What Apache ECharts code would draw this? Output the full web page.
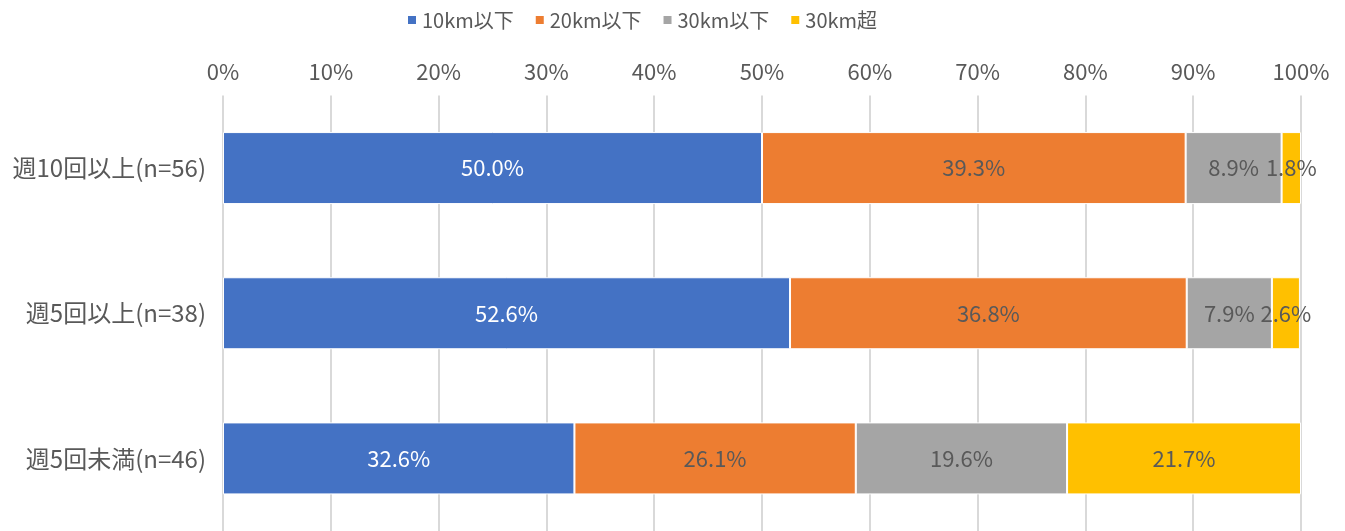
<!DOCTYPE html>
<html><head><meta charset="utf-8">
<script src="https://cdn.jsdelivr.net/npm/echarts@6/dist/echarts.min.js"></script>
<style>html,body{margin:0;padding:0;background:#fff}#c{width:1345px;height:531px}</style>
</head><body><div id="c"></div>
<script>
const categories = ['週10回以上(n=56)', '週5回以上(n=38)', '週5回未満(n=46)'];
const seriesNames = ['10km以下', '20km以下', '30km以下', '30km超'];
const s10 = [50.0, 52.6, 32.6];
const s20 = [39.3, 36.8, 26.1];
const s30 = [8.9, 7.9, 19.6];
const sOver = [1.8, 2.6, 21.7];
const tickLabels = ['0%','10%','20%','30%','40%','50%','60%','70%','80%','90%','100%'];

const colors = ['#4472C4', '#ED7D31', '#A5A5A5', '#FFC000'];
const font = '"Noto Sans CJK JP", "Noto Sans", sans-serif';
const data = [s10, s20, s30, sOver];

const chart = echarts.init(document.getElementById('c'));
chart.setOption({
  animation: false,
  textStyle: { fontFamily: font },
  legend: {
    top: 5, left: 401,
    itemWidth: 10, itemHeight: 10, itemGap: 20,
    icon: 'rect',
    textStyle: { fontSize: 20, color: '#595959', fontFamily: font },
    data: seriesNames
  },
  grid: { left: 223, right: 44, top: 95.5, bottom: 0, containLabel: false },
  xAxis: {
    type: 'value', position: 'top', min: 0, max: 100, interval: 10,
    axisLine: { show: false }, axisTick: { show: false },
    splitLine: { show: true, lineStyle: { color: '#D9D9D9', width: 2 } },
    axisLabel: { fontSize: 22, color: '#595959', margin: 13, fontFamily: font,
      formatter: v => tickLabels[Math.round(v / 10)] }
  },
  yAxis: {
    type: 'category', inverse: true, data: categories,
    axisLine: { show: false }, axisTick: { show: false },
    axisLabel: { fontSize: 24, color: '#595959', margin: 17, fontFamily: font }
  },
  series: seriesNames.map((n, i) => ({
    name: n, type: 'bar', stack: 'total', barWidth: 72,
    itemStyle: { color: colors[i], borderColor: '#fff', borderWidth: 1 },
    label: {
      show: true, position: 'inside', fontSize: 22, fontFamily: font,
      color: i === 0 ? '#fff' : '#595959',
      formatter: p => p.value.toFixed(1) + '%'
    },
    data: data[i]
  }))
});
</script></body></html>
